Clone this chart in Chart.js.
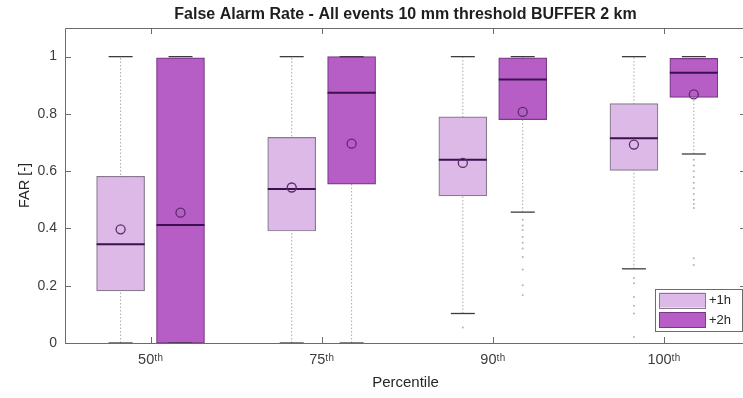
<!DOCTYPE html>
<html>
<head>
<meta charset="utf-8">
<script src="https://cdn.jsdelivr.net/npm/chart.js@4/dist/chart.umd.min.js"></script>
<style>
html,body{margin:0;padding:0;overflow:hidden;background:#fff;width:743px;height:398px;}
canvas{display:block;}
</style>
</head>
<body>
<canvas id="c" width="749" height="398"></canvas>
<script>
// ---- data ----
const categories = ['50\u1D57\u02B0', '75\u1D57\u02B0', '90\u1D57\u02B0', '100\u1D57\u02B0'];
const seriesNames = ['+1h', '+2h'];
const yTickValues = [0, 0.2, 0.4, 0.6, 0.8, 1];
const yTickLabels = ['0', '0.2', '0.4', '0.6', '0.8', '1'];

// +1h
const h1Q1   = [0.182, 0.391, 0.514, 0.603];
const h1Q3   = [0.582, 0.718, 0.790, 0.836];
const h1Med  = [0.345, 0.538, 0.640, 0.715];
const h1Mean = [0.397, 0.543, 0.629, 0.693];
const h1Lo   = [0, 0, 0.103, 0.259];
const h1Hi   = [1, 1, 1, 1];
const h1Out  = [[], [], [0.054], [0.227, 0.209, 0.161, 0.130, 0.103, 0.021]];

// +2h
const h2Q1   = [0, 0.555, 0.780, 0.858];
const h2Q3   = [0.996, 1.0, 0.996, 0.994];
const h2Med  = [0.412, 0.874, 0.920, 0.944];
const h2Mean = [0.455, 0.696, 0.807, 0.868];
const h2Lo   = [0, 0, 0.457, 0.660];
const h2Hi   = [1, 1, 1, 1];
const h2Out  = [[], [], [0.430, 0.410, 0.395, 0.370, 0.350, 0.330, 0.300, 0.257, 0.202, 0.167],
                [0.640, 0.620, 0.600, 0.580, 0.560, 0.540, 0.520, 0.500, 0.485, 0.471, 0.296, 0.272]];

// ---- styling ----
const FONT = "'Liberation Sans', Arial, Helvetica, sans-serif";
const fill1 = '#dcb9e6', edge1 = '#877a8e';
const fill2 = '#b65ec6', edge2 = '#7a3a88';
const medColor = '#3d1050';
const meanColor = '#5c2a6e';
const capColor = '#3f3a42';
const whiskColor = '#a8a8a8';
const outColor = '#b3b3b3';
const OFF = 0.175;

const pos1 = categories.map((_, i) => i + 1 - OFF);
const pos2 = categories.map((_, i) => i + 1 + OFF);

function boxData(p, q1, q3) { return p.map((x, i) => ({x: x, y: [q1[i], q3[i]]})); }
function ptData(p, v) { return p.map((x, i) => ({x: x, y: v[i]})); }
function whiskData(p, lo, hi) {
  const d = [];
  p.forEach((x, i) => { d.push({x: x, y: lo[i]}, {x: x, y: hi[i]}, {x: x, y: null}); });
  return d;
}
function capData(p, lo, hi) {
  const d = [];
  p.forEach((x, i) => { d.push({x: x, y: lo[i]}, {x: x, y: hi[i]}); });
  return d;
}
function outData(p, out) {
  const d = [];
  p.forEach((x, i) => out[i].forEach(v => d.push({x: x, y: v})));
  return d;
}

const datasets = [
  {type:'line', data: whiskData(pos1, h1Lo, h1Hi), borderColor: whiskColor, borderWidth: 1, borderDash:[1.5,2], pointRadius:0, spanGaps:false, order: 20},
  {type:'line', data: whiskData(pos2, h2Lo, h2Hi), borderColor: whiskColor, borderWidth: 1, borderDash:[1.5,2], pointRadius:0, spanGaps:false, order: 20},
  {type:'bar', label: seriesNames[0], data: boxData(pos1, h1Q1, h1Q3), backgroundColor: fill1, borderColor: edge1, borderWidth: 1.2, borderSkipped: false, barThickness: 48, grouped: false, order: 10},
  {type:'bar', label: seriesNames[1], data: boxData(pos2, h2Q1, h2Q3), backgroundColor: fill2, borderColor: edge2, borderWidth: 1.2, borderSkipped: false, barThickness: 48, grouped: false, order: 10},
  {type:'line', data: ptData(pos1, h1Med), showLine:false, pointStyle:'line', pointRadius:24, pointBorderWidth:2, pointBorderColor: medColor, order: 5},
  {type:'line', data: ptData(pos2, h2Med), showLine:false, pointStyle:'line', pointRadius:24, pointBorderWidth:2, pointBorderColor: medColor, order: 5},
  {type:'line', data: capData(pos1, h1Lo, h1Hi), showLine:false, pointStyle:'line', pointRadius:12, pointBorderWidth:1.3, pointBorderColor: capColor, order: 4},
  {type:'line', data: capData(pos2, h2Lo, h2Hi), showLine:false, pointStyle:'line', pointRadius:12, pointBorderWidth:1.3, pointBorderColor: capColor, order: 4},
  {type:'line', data: ptData(pos1, h1Mean), showLine:false, pointStyle:'circle', pointRadius:4.5, pointBorderWidth:1.3, pointBorderColor: meanColor, pointBackgroundColor:'rgba(0,0,0,0)', order: 2},
  {type:'line', data: ptData(pos2, h2Mean), showLine:false, pointStyle:'circle', pointRadius:4.5, pointBorderWidth:1.3, pointBorderColor: meanColor, pointBackgroundColor:'rgba(0,0,0,0)', order: 2},
  {type:'line', data: outData(pos1, h1Out), showLine:false, pointStyle:'circle', pointRadius:1, pointBorderWidth:0, pointBackgroundColor: outColor, order: 1},
  {type:'line', data: outData(pos2, h2Out), showLine:false, pointStyle:'circle', pointRadius:1, pointBorderWidth:0, pointBackgroundColor: outColor, order: 1}
];

const framePlugin = {
  id: 'frame',
  afterDatasetsDraw(chart) {
    const {ctx, chartArea: a, scales: {x, y}} = chart;
    ctx.save();
    ctx.strokeStyle = '#6b6b6b';
    ctx.lineWidth = 1;
    ctx.beginPath();
    ctx.rect(Math.round(a.left) + 0.5, Math.round(a.top) + 0.5, Math.round(a.right - a.left), Math.round(a.bottom - a.top));
    const L = 6;
    x.ticks.forEach(t => {
      const px = Math.round(x.getPixelForValue(t.value)) + 0.5;
      ctx.moveTo(px, a.bottom); ctx.lineTo(px, a.bottom - L);
      ctx.moveTo(px, a.top); ctx.lineTo(px, a.top + L);
    });
    y.ticks.forEach(t => {
      const py = Math.round(y.getPixelForValue(t.value)) + 0.5;
      ctx.moveTo(a.left, py); ctx.lineTo(a.left + L, py);
      ctx.moveTo(a.right, py); ctx.lineTo(a.right - L, py);
    });
    ctx.stroke();
    ctx.restore();
  },
  afterDraw(chart) {
    // legend (south-east, inside the axes)
    const {ctx, chartArea: a} = chart;
    const bw = 87, bh = 42;
    const bx = a.right - 91, by = a.bottom - 54;
    ctx.save();
    ctx.fillStyle = '#ffffff';
    ctx.fillRect(bx, by, bw, bh);
    ctx.strokeStyle = '#6b6b6b';
    ctx.lineWidth = 1;
    ctx.strokeRect(Math.round(bx) + 0.5, Math.round(by) + 0.5, bw, bh);
    const fills = [fill1, fill2], edges = [edge1, edge2];
    ctx.font = '13px ' + FONT;
    ctx.textBaseline = 'middle';
    seriesNames.forEach((name, i) => {
      const sx = bx + 4, sy = by + 3.5 + i * 19.5;
      ctx.fillStyle = fills[i];
      ctx.fillRect(sx, sy, 46, 15);
      ctx.strokeStyle = edges[i];
      ctx.strokeRect(Math.round(sx) + 0.5, Math.round(sy) + 0.5, 46, 15);
      ctx.fillStyle = '#262626';
      ctx.fillText(name, sx + 50, sy + 8);
    });
    ctx.restore();
  }
};

new Chart(document.getElementById('c'), {
  type: 'bar',
  data: { datasets: datasets },
  plugins: [framePlugin],
  options: {
    responsive: false,
    animation: false,
    events: [],
    layout: { autoPadding: false, padding: { left: 0, right: 3, top: 0, bottom: 0 } },
    plugins: {
      legend: { display: false },
      tooltip: { enabled: false },
      title: {
        display: true,
        fullSize: false,
        text: 'False Alarm Rate - All events 10 mm threshold BUFFER 2 km',
        color: '#1e1e1e',
        font: { family: FONT, size: 16, weight: 'bold' },
        padding: { top: 5, bottom: 3.8 }
      }
    },
    scales: {
      x: {
        type: 'linear', min: 0.5, max: 4.48, offset: false,
        grid: { display: false, drawTicks: false },
        border: { display: false },
        afterBuildTicks: s => { s.ticks = categories.map((_, i) => ({value: i + 1})); },
        afterFit: s => { s.height = 55; s.paddingLeft = 0; s.paddingRight = 0; },
        ticks: {
          autoSkip: false, maxRotation: 0, padding: 8,
          color: '#3c3c3c', font: { family: FONT, size: 14.5 },
          callback: v => categories[Math.round(v) - 1]
        },
        title: { display: true, text: 'Percentile', color: '#262626', font: { family: FONT, size: 15 }, padding: { top: 0, bottom: 6 } }
      },
      y: {
        type: 'linear', min: 0, max: 1.1,
        grid: { display: false, drawTicks: false },
        border: { display: false },
        afterBuildTicks: s => { s.ticks = yTickValues.map(v => ({value: v})); },
        afterFit: s => { s.width = 65; s.paddingTop = 0; s.paddingBottom = 0; },
        ticks: {
          padding: 8, color: '#3c3c3c', font: { family: FONT, size: 14 },
          callback: v => { const i = yTickValues.findIndex(t => Math.abs(t - v) < 1e-9); return i >= 0 ? yTickLabels[i] : ''; }
        },
        title: { display: true, text: 'FAR [-]', color: '#262626', font: { family: FONT, size: 14.5 }, padding: { top: 16.3, bottom: 0 } }
      }
    }
  }
});
</script>
</body>
</html>
